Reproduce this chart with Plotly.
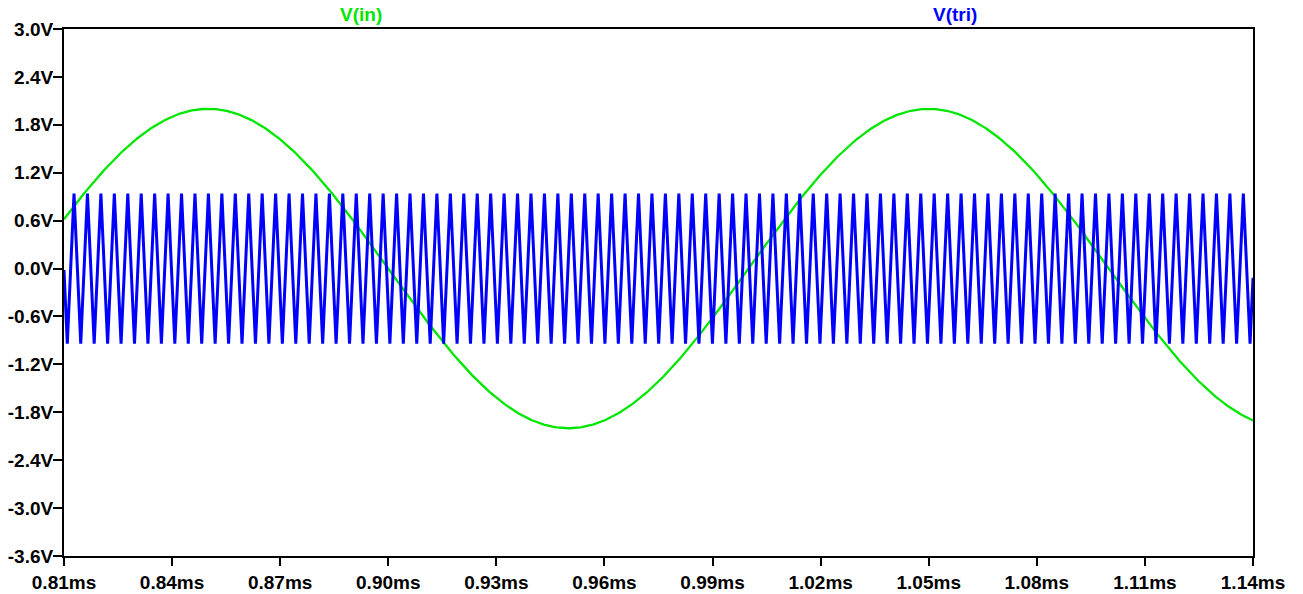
import numpy as np
import plotly.graph_objects as go

# --- data ---
x_ticks_ms = [0.81, 0.84, 0.87, 0.90, 0.93, 0.96, 0.99, 1.02, 1.05, 1.08, 1.11, 1.14]
x_tick_labels = ["0.81ms", "0.84ms", "0.87ms", "0.90ms", "0.93ms", "0.96ms",
                 "0.99ms", "1.02ms", "1.05ms", "1.08ms", "1.11ms", "1.14ms"]
y_ticks_v = [3.0, 2.4, 1.8, 1.2, 0.6, 0.0, -0.6, -1.2, -1.8, -2.4, -3.0, -3.6]
y_tick_labels = ["3.0V", "2.4V", "1.8V", "1.2V", "0.6V", "0.0V",
                 "-0.6V", "-1.2V", "-1.8V", "-2.4V", "-3.0V", "-3.6V"]

# V(in): sine wave, peak 2.0 V at 0.85 ms and 1.05 ms (period 0.2 ms)
vin_amplitude = 2.0
vin_peak_ms = 0.85
vin_period_ms = 0.20

# V(tri): triangle wave, +/-0.94 V, first peak at 0.8128 ms, 87 periods to 1.1373 ms
tri_amplitude = 0.94
tri_first_peak_ms = 0.81278
tri_period_ms = 0.0037303

t_start, t_end = 0.81, 1.14

# sine samples
t_in = np.linspace(t_start, t_end, 1200)
v_in = vin_amplitude * np.cos(2 * np.pi * (t_in - vin_peak_ms) / vin_period_ms)

# triangle vertices
half = tri_period_ms / 2
k0 = int(np.floor((t_start - tri_first_peak_ms) / half)) - 1
k1 = int(np.ceil((t_end - tri_first_peak_ms) / half)) + 1
t_v = tri_first_peak_ms + np.arange(k0, k1 + 1) * half
v_v = np.where(np.arange(k0, k1 + 1) % 2 == 0, tri_amplitude, -tri_amplitude)
mask = (t_v > t_start) & (t_v < t_end)
t_tri = np.concatenate([[t_start], t_v[mask], [t_end]])
v_tri = np.interp(t_tri, t_v, v_v)

GREEN = "#00e600"
BLUE = "#0000ff"
FAMILY = "Liberation Sans, Arial, sans-serif"
FS = 19

fig = go.Figure()
fig.add_trace(go.Scatter(x=t_in, y=v_in, mode="lines", name="V(in)",
                         line=dict(color=GREEN, width=2.3)))
fig.add_trace(go.Scatter(x=t_tri, y=v_tri, mode="lines", name="V(tri)",
                         line=dict(color=BLUE, width=3)))

L, R, T, B = 64, 50, 29, 38
W, H = 1303, 594
fig.update_layout(
    width=W, height=H,
    margin=dict(l=L, r=R, t=T, b=B, autoexpand=False),
    paper_bgcolor="white", plot_bgcolor="white",
    showlegend=False,
    font=dict(family=FAMILY, size=FS, color="black"),
    xaxis=dict(range=[t_start, t_end], tickvals=x_ticks_ms,
               ticktext=[f"<b>{s}</b>" for s in x_tick_labels], automargin=False,
               showgrid=False, zeroline=False, showline=True, linecolor="black", linewidth=2,
               mirror=True, ticks="outside", ticklen=8, tickwidth=2, tickcolor="black"),
    yaxis=dict(range=[-3.6, 3.0], tickvals=y_ticks_v,
               ticktext=[f"<b>{s}</b>" for s in y_tick_labels], automargin=False,
               showgrid=False, zeroline=False, showline=True, linecolor="black", linewidth=2,
               mirror=True, ticks="outside", ticklen=9, tickwidth=2, tickcolor="black",
               ticklabelstandoff=-4),
)
pw, ph = W - L - R, H - T - B
for txt, px, col in [("V(in)", 361, GREEN), ("V(tri)", 955, BLUE)]:
    fig.add_annotation(text=f"<b>{txt}</b>", x=(px - L) / pw, y=(H - 15 - B) / ph,
                       xref="paper", yref="paper", showarrow=False,
                       xanchor="center", yanchor="middle",
                       font=dict(family=FAMILY, size=FS, color=col))
fig.write_html("out.html")
